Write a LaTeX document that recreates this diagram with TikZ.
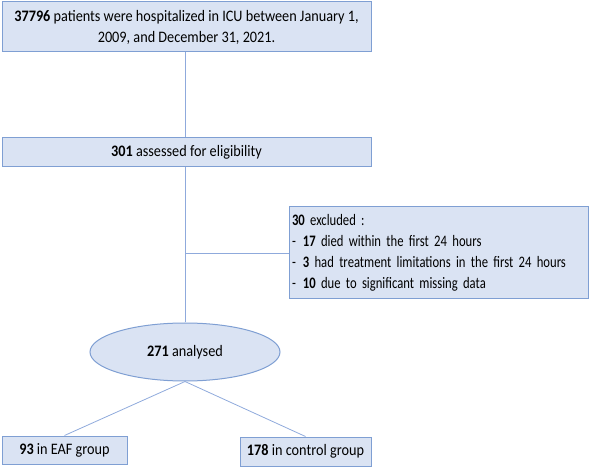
\documentclass[tikz,border=0pt]{standalone}
\usepackage{fontspec}
\setmainfont{Carlito}[FakeStretch=0.89]
\newfontfamily\narrowfont{Carlito}[FakeStretch=0.79]
\usetikzlibrary{shapes.geometric,positioning}
\definecolor{boxfill}{HTML}{DAE3F3}
\definecolor{boxline}{HTML}{7F9FD3}
\definecolor{linkline}{HTML}{8FAADC}

\begin{document}
\begin{tikzpicture}[x=1pt,y=-1pt,every node/.style={font=\fontsize{16}{21}\selectfont},
  flowbox/.style={draw=boxline,fill=boxfill,line width=1pt,inner sep=0pt,align=center},
  link/.style={draw=linkline,line width=.8pt}]
\useasboundingbox (0,0) rectangle (590,468);
\node[flowbox,minimum width=369pt,minimum height=50pt] (total) at (186.5,27)
  {\textbf{37796} patients were hospitalized in ICU between January 1,\\2009, and December 31, 2021.};
\node[flowbox,minimum width=369pt,minimum height=29pt] (elig) at (186.5,152.5)
  {\textbf{301} assessed for eligibility};
\node[flowbox,minimum width=299pt,minimum height=92pt,align=left,text width=293pt,inner xsep=3pt,
  font=\narrowfont\fontsize{16}{21}\selectfont] (excl) at (438.5,253)
  {\textbf{30} excluded :\\
   -\hspace{7pt}\textbf{17} died within the first 24 hours\\
   -\hspace{7pt}\textbf{3} had treatment limitations in the first 24 hours\\
   -\hspace{7pt}\textbf{10} due to significant missing data};
\node[flowbox,ellipse,minimum width=190pt,minimum height=58pt] (anal) at (185,352)
  {\textbf{271} analysed};
\node[flowbox,minimum width=125pt,minimum height=28pt] (eaf) at (64.5,450)
  {\textbf{93} in EAF group};
\node[flowbox,minimum width=131pt,minimum height=29pt] (ctrl) at (305.5,451.5)
  {\textbf{178} in control group};
\coordinate (branch) at (185,253);
\draw[link] (total.south -| branch) -- (elig.north -| branch);
\draw[link] (elig.south -| branch) -- (anal.north);
\draw[link] (branch) -- (excl.west);
\draw[link] (anal.south) -- (eaf.north);
\draw[link] (anal.south) -- (ctrl.north);
\end{tikzpicture}
\end{document}
